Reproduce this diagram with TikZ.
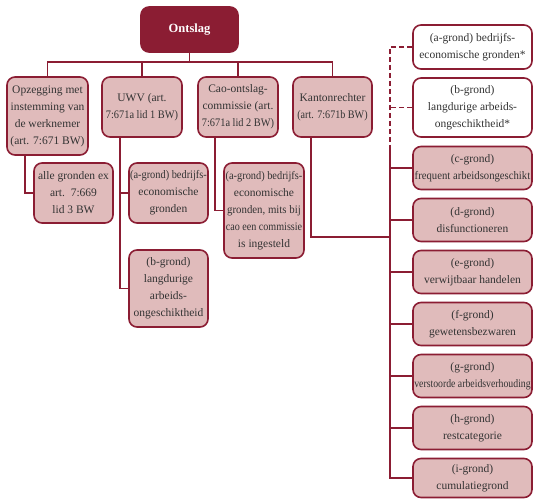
\documentclass[tikz,border=0pt]{standalone}
\usepackage{fontspec}
\setmainfont{Liberation Serif}
\usepackage{graphicx}
\definecolor{dred}{HTML}{8B1D33}
\definecolor{boxpink}{HTML}{E0BBBB}
\definecolor{txt}{HTML}{333333}
\newcommand\sq[2][0.9]{\scalebox{#1}[1]{#2}}
\begin{document}
\begin{tikzpicture}[x=1pt,y=-1pt,
  box/.style={draw=dred, line width=1.6pt, rounded corners=8pt, fill=boxpink, text=txt,
    align=center, inner sep=1pt, font=\fontsize{11.5}{17}\selectfont},
  wbox/.style={box, fill=white},
  topbox/.style={box, fill=dred, text=white, font=\fontsize{12.5}{15}\selectfont\bfseries},
  conn/.style={draw=dred, line width=1.6pt},
  dconn/.style={conn, dash pattern=on 5pt off 3pt},
]
\useasboundingbox (0,0) rectangle (534,498);

% top
\node[topbox, minimum width=97pt, minimum height=45pt] (ontslag) at (189.5,29.5) {Ontslag};

% level 1
\node[box, minimum width=81pt, minimum height=78pt] (opz) at (47.5,116) {Opzegging met\\instemming van\\de werknemer\\(art. 7:671 BW)};
\node[box, minimum width=80pt, minimum height=60pt] (uwv) at (142,107) {UWV (art.\\\sq[0.9]{7:671a lid 1 BW)}};
\node[box, minimum width=80pt, minimum height=60pt] (cao) at (238,107) {Cao-ontslag-\\commissie (art.\\\sq[0.9]{7:671a lid 2 BW)}};
\node[box, minimum width=79pt, minimum height=60pt] (kanton) at (332.5,107) {Kantonrechter\\\sq[0.88]{(art. 7:671b BW)}};

% level 2
\node[box, minimum width=79pt, minimum height=60pt] (alle) at (73.5,193) {alle gronden ex\\art.~~7:669\\lid 3 BW};
\node[box, minimum width=79pt, minimum height=60pt] (uwva) at (168.5,193) {\sq[0.9]{(a-grond) bedrijfs-}\\economische\\gronden};
\node[box, minimum width=79pt, minimum height=77pt] (uwvb) at (168.5,288.5) {(b-grond)\\langdurige\\arbeids-\\ongeschiktheid};
\node[box, minimum width=80pt, minimum height=95pt] (caoa) at (264,210.5) {\sq[0.9]{(a-grond) bedrijfs-}\\economische\\\sq[0.94]{gronden, mits bij}\\\sq[0.88]{cao een commissie}\\is ingesteld};

% right column
\node[wbox, minimum width=119pt, minimum height=44pt] (ra) at (472.5,47) {(a-grond) bedrijfs-\\economische gronden*};
\node[wbox, minimum width=119pt, minimum height=59pt] (rb) at (472.5,107.5) {(b-grond)\\langdurige arbeids-\\ongeschiktheid*};
\node[box, minimum width=119pt, minimum height=43pt] (rc) at (472.5,168) {(c-grond)\\\sq[0.93]{frequent arbeidsongeschikt}};
\node[box, minimum width=119pt, minimum height=43pt] (rd) at (472.5,220) {(d-grond)\\disfunctioneren};
\node[box, minimum width=119pt, minimum height=43pt] (re) at (472.5,272) {(e-grond)\\verwijtbaar handelen};
\node[box, minimum width=119pt, minimum height=43pt] (rf) at (472.5,324) {(f-grond)\\gewetensbezwaren};
\node[box, minimum width=119pt, minimum height=43pt] (rg) at (472.5,376) {(g-grond)\\\sq[0.85]{verstoorde arbeidsverhouding}};
\node[box, minimum width=119pt, minimum height=43pt] (rh) at (472.5,428) {(h-grond)\\restcategorie};
\node[box, minimum width=119pt, minimum height=39pt] (ri) at (472.5,478) {(i-grond)\\cumulatiegrond};

% helper coordinates
\coordinate (bus) at (0,62);
\coordinate (rx) at (390,0);
\coordinate (rmid) at (390,145);
\coordinate (rjoin) at (390,237);

% connectors top level
\draw[conn] (ontslag.south) -- (ontslag.south |- bus);
\draw[conn] (opz.north) -- (opz.north |- bus) -- (kanton.north |- bus) -- (kanton.north);
\draw[conn] (uwv.north) -- (uwv.north |- bus);
\draw[conn] (cao.north) -- (cao.north |- bus);

% level 2 connectors
\draw[conn] ([xshift=-22.5pt]opz.south) |- (alle.west);
\draw[conn] ([xshift=-22pt]uwv.south) |- (uwvb.west);
\draw[conn] ([xshift=-22pt]uwv.south |- uwva.west) -- (uwva.west);
\draw[conn] ([xshift=-23pt]cao.south) |- (caoa.west);
\draw[conn] ([xshift=-21.5pt]kanton.south) |- (rjoin);

% right bus
\draw[dconn] (ra.west) -- (ra.west -| rx) -- (rmid);
\draw[dconn] (rb.west) -- (rb.west -| rx);
\draw[conn] (rmid) -- (ri.west -| rx) -- (ri.west);
\foreach \n in {rc,rd,re,rf,rg,rh}{
  \draw[conn] (\n.west -| rx) -- (\n.west);
}
\end{tikzpicture}
\end{document}
